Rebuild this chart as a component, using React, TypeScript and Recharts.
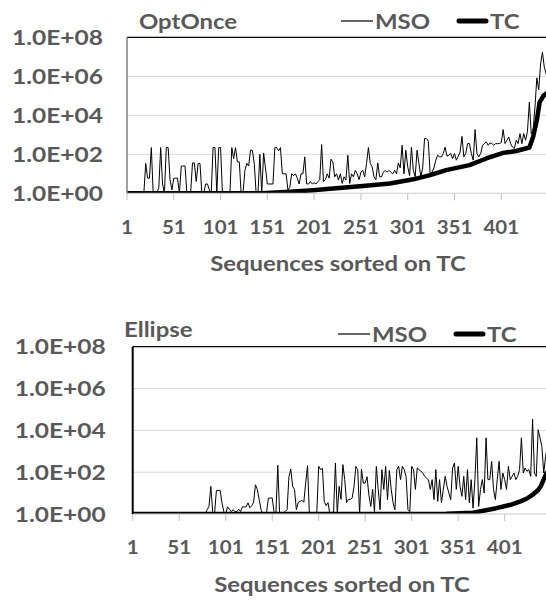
import { CartesianGrid, Line, LineChart, ReferenceLine, XAxis, YAxis } from "recharts";

const FONT = 'Lato, "Noto Sans", sans-serif';
const TEXT = "#595959";
const STRETCH = 1.14;

const X_TICKS = [1, 51, 101, 151, 201, 251, 301, 351, 401];
const Y_TICKS = [1, 1e2, 1e4, 1e6, 1e8];
const SEQ_MAX = 452;

// MSO is read every second sequence (1, 3, 5, ... 451)
const OPTONCE_MSO = [
  1, 1, 1, 1, 1, 1, 1, 1, 1, 1,
  34, 6, 6, 220, 1, 1, 1, 2, 220, 3,
  1, 220, 220, 5, 1.5, 6, 6, 6, 1, 25,
  25, 25, 1, 1, 1, 36, 36, 4, 34, 34,
  1, 1, 3, 3, 1.5, 1, 220, 220, 1, 220,
  220, 1, 1, 1, 1, 1, 220, 60, 220, 41,
  41, 1, 1, 15, 34, 25, 160, 160, 34, 1,
  1, 100, 1, 117, 20, 3, 3, 3, 3, 220,
  220, 150, 220, 10, 10, 10, 1.5, 2, 10, 8,
  10, 6, 3, 10, 10, 74, 3, 3, 4, 3,
  3.5, 3, 4, 5, 316, 4, 5, 10, 6, 56,
  41, 7, 10, 4.8, 10, 3.2, 7, 4.8, 90, 3.2,
  10, 7, 15, 10, 5, 12, 15, 7, 34, 222,
  34, 23, 7, 5, 36, 7, 7, 12, 15, 12,
  15, 12, 10, 15, 10, 36, 20, 290, 10, 162,
  23, 8, 233, 15, 7, 162, 34, 7, 20, 640,
  640, 480, 10, 12, 20, 50, 90, 74, 74, 110,
  233, 80, 90, 110, 60, 110, 50, 80, 130, 830,
  74, 110, 355, 355, 110, 50, 1850, 110, 74, 110,
  290, 355, 430, 290, 380, 355, 290, 355, 350, 355,
  400, 1850, 355, 520, 775, 355, 233, 200, 525, 355,
  1150, 355, 1150, 525, 1500, 47000, 1150, 1700, 26000, 830000,
  2e5, 4.3e6, 1.7e7, 2.9e6, 1.3e6, 1e6,
];
const OPTONCE_TC_SEQ = [1, 145, 175, 200, 218, 253, 282, 307, 325, 342, 367, 385, 403, 417, 431, 435, 439, 442, 446, 451];
const OPTONCE_TC = [1, 1, 1.2, 1.45, 1.7, 2.4, 3.2, 5.2, 8.6, 15.5, 28, 61, 118, 148, 223, 770, 5500, 47000, 1e5, 1.5e5];

const ELLIPSE_MSO = [
  1, 1, 1, 1, 1, 1, 1, 1, 1, 1,
  1, 1, 1.1, 1, 1, 1, 1, 1, 1, 1,
  1, 1, 1, 1, 1, 1, 1, 1, 1, 1,
  1, 1, 1, 1, 1.1, 1, 1, 1, 1, 1,
  1.6, 2.3, 21, 1.3, 1, 13.5, 13.5, 13.5, 3.4, 1.3,
  1, 2.2, 1.7, 1.3, 1.6, 1.3, 1.3, 1.7, 1.3, 2.2,
  2.2, 2.2, 3.4, 2, 2.5, 3.6, 25, 15, 4.9, 1.6,
  1, 1, 1.3, 5.8, 5.8, 5.8, 1.3, 1, 213, 1,
  1, 1.1, 1.3, 1.6, 60, 140, 21, 15, 1.6, 3.6,
  4, 4.5, 3.6, 30, 205, 1, 1, 1, 1, 1.2,
  190, 132, 155, 4, 2.5, 3.5, 1, 1.2, 1.2, 275,
  1, 21, 5, 230, 44, 3.5, 5, 5, 5.8, 21,
  190, 132, 1, 140, 30, 30, 61, 8, 2.3, 15,
  1.3, 190, 15, 1.6, 132, 15, 190, 4.9, 120, 15,
  3.4, 1.6, 132, 190, 44, 190, 132, 60, 1.6, 1.3,
  190, 132, 15, 158, 132, 110, 91, 63, 52, 44,
  15, 44, 4.9, 132, 4, 44, 3.4, 15, 63, 21,
  10, 4.9, 158, 275, 15, 190, 21, 7, 63, 4.9,
  132, 3.4, 44, 1.9, 44, 4400, 2.3, 15, 44, 10,
  4400, 44, 44, 330, 15, 4.9, 44, 330, 15, 91,
  44, 15, 190, 44, 63, 91, 44, 63, 132, 4400,
  91, 158, 110, 132, 63, 35000, 91, 63, 10700, 4400,
  1700, 91, 570, 1700, 1200, 900,
];
const ELLIPSE_TC_SEQ = [1, 300, 338, 367, 392, 408, 418, 425, 432, 437, 440, 443, 446, 451];
const ELLIPSE_TC = [1, 1, 1.03, 1.15, 1.9, 2.8, 4, 5.5, 9, 14, 22, 45, 90, 160];

type Row = { seq: number; mso?: number; tc?: number };

function buildRows(mso: number[], tcSeq: number[], tc: number[]): Row[] {
  const rows = new Map<number, Row>();
  mso.forEach((v, i) => rows.set(1 + 2 * i, { seq: 1 + 2 * i, mso: v }));
  tcSeq.forEach((seq, i) => {
    const r = rows.get(seq) ?? { seq };
    r.tc = tc[i];
    rows.set(seq, r);
  });
  return [...rows.values()].sort((a, b) => a.seq - b.seq);
}

const sci = (v: number) => {
  const e = Math.round(Math.log10(v));
  return `1.0E+${String(e).padStart(2, "0")}`;
};

function Label({ x, cy, text, size = 21, anchor = "start" }: { x: number; cy: number; text: string; size?: number; anchor?: "start" | "middle" | "end" }) {
  return (
    <text
      transform={`translate(${x} ${cy + 0.358 * size}) scale(${STRETCH} 1)`}
      textAnchor={anchor}
      fontSize={size}
      fontWeight={700}
      fontFamily={FONT}
      fill={TEXT}
    >
      {text}
    </text>
  );
}

function YTick(props: any) {
  const { x, y, payload } = props;
  return <Label x={x} cy={y} text={sci(payload.value)} size={21.5} anchor="end" />;
}

function XTick(props: any) {
  const { x, y, payload } = props;
  return <Label x={x} cy={y} text={String(payload.value)} size={18} anchor="middle" />;
}

type PanelConfig = {
  top: number;
  height: number;
  plotTop: number;
  left: number;
  right: number;
  bottom: number;
  tickGap: number;
  yGap: number;
  axisColor: string;
  axisWidth: number;
};

function Panel({ rows, cfg }: { rows: Row[]; cfg: PanelConfig }) {
  return (
    <div style={{ position: "absolute", left: 0, top: cfg.top }}>
      <LineChart
        width={570}
        height={cfg.height}
        data={rows}
        margin={{ top: cfg.plotTop, right: cfg.right, left: 0, bottom: cfg.bottom }}
      >
        <CartesianGrid vertical={false} stroke="#d9d9d9" />
        <XAxis
          type="number"
          dataKey="seq"
          domain={[1, SEQ_MAX]}
          ticks={X_TICKS}
          interval={0}
          allowDataOverflow
          height={60}
          axisLine={{ stroke: "#d9d9d9" }}
          tickLine={{ stroke: "#bfbfbf" }}
          tickSize={7}
          tickMargin={cfg.tickGap}
          tick={<XTick />}
        />
        <YAxis
          type="number"
          scale="log"
          domain={[1, 1e8]}
          ticks={Y_TICKS}
          interval={0}
          allowDataOverflow
          width={cfg.left}
          axisLine={{ stroke: cfg.axisColor, strokeWidth: cfg.axisWidth }}
          tickLine={false}
          tickSize={0}
          tickMargin={cfg.yGap}
          tick={<YTick />}
        />
        <ReferenceLine y={1e8} stroke="#000" strokeWidth={1.2} />
        <Line
          dataKey="mso"
          type="linear"
          stroke="#000"
          strokeWidth={1}
          dot={false}
          connectNulls
          isAnimationActive={false}
        />
        <Line
          dataKey="tc"
          type="linear"
          stroke="#000"
          strokeWidth={4.5}
          strokeLinejoin="round"
          dot={false}
          connectNulls
          isAnimationActive={false}
        />
      </LineChart>
    </div>
  );
}

const TOP_CFG: PanelConfig = {
  top: 0, height: 290, plotTop: 37.3, left: 127, right: 21, bottom: 36.7,
  tickGap: 27.4, yGap: 24, axisColor: "#808080", axisWidth: 1.5,
};
const BOTTOM_CFG: PanelConfig = {
  top: 300, height: 300, plotTop: 46.7, left: 132.7, right: 17.9, bottom: 26,
  tickGap: 27, yGap: 27, axisColor: "#000", axisWidth: 2,
};

function Legend({ x, cy }: { x: number; cy: number }) {
  return (
    <g>
      <line x1={x} y1={cy} x2={x + 32} y2={cy} stroke="#000" strokeWidth={1.2} />
      <Label x={x + 34} cy={cy} text="MSO" />
      <line x1={x + 118} y1={cy} x2={x + 145} y2={cy} stroke="#000" strokeWidth={5} strokeLinecap="round" />
      <Label x={x + 149} cy={cy} text="TC" />
    </g>
  );
}

export default function App() {
  const optOnce = buildRows(OPTONCE_MSO, OPTONCE_TC_SEQ, OPTONCE_TC);
  const ellipse = buildRows(ELLIPSE_MSO, ELLIPSE_TC_SEQ, ELLIPSE_TC);
  return (
    <div style={{ position: "fixed", left: 0, top: 0, width: 546, height: 600, overflow: "hidden", background: "#fff" }}>
      <Panel rows={optOnce} cfg={TOP_CFG} />
      <Panel rows={ellipse} cfg={BOTTOM_CFG} />
      <svg width={546} height={600} style={{ position: "absolute", left: 0, top: 0, pointerEvents: "none" }}>
        <Label x={139} cy={21} text="OptOnce" />
        <Legend x={341} cy={21} />
        <Label x={338} cy={263.3} text="Sequences sorted on TC" anchor="middle" />
        <Label x={124} cy={329} text="Ellipse" />
        <Legend x={338} cy={334} />
        <Label x={342} cy={584} text="Sequences sorted on TC" anchor="middle" />
      </svg>
    </div>
  );
}
